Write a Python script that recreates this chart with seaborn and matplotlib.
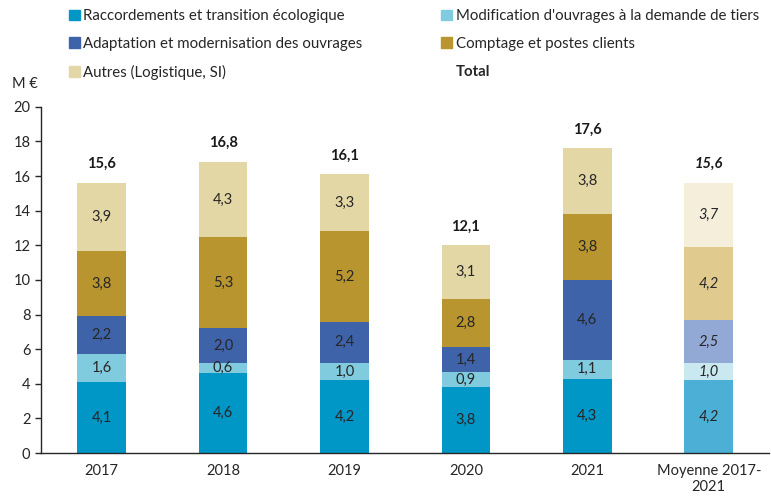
import numpy as np
import pandas as pd
import seaborn as sns
import matplotlib.pyplot as plt
from matplotlib.patches import Patch

sns.set_theme(style="white")
plt.rcParams['font.family'] = ['Lato', 'DejaVu Sans']

# data
categories = ["2017", "2018", "2019", "2020", "2021", "Moyenne 2017-\n2021"]
raccordements = [4.1, 4.6, 4.2, 3.8, 4.3, 4.2]
modification = [1.6, 0.6, 1.0, 0.9, 1.1, 1.0]
adaptation = [2.2, 2.0, 2.4, 1.4, 4.6, 2.5]
comptage = [3.8, 5.3, 5.2, 2.8, 3.8, 4.2]
autres = [3.9, 4.3, 3.3, 3.1, 3.8, 3.7]
totals = [15.6, 16.8, 16.1, 12.1, 17.6, 15.6]

series_names = [
    "Raccordements et transition écologique",
    "Modification d'ouvrages à la demande de tiers",
    "Adaptation et modernisation des ouvrages",
    "Comptage et postes clients",
    "Autres (Logistique, SI)",
]
series = [raccordements, modification, adaptation, comptage, autres]
# normal colours, and lighter ones for the average bar
colors = ["#0096C6", "#80CBDD", "#3F63A8", "#B8952F", "#E4D7A6"]
colors_avg = ["#4BAFD6", "#C9E8EF", "#91A9D4", "#E1CA8E", "#F4EEDB"]

fig = plt.figure(figsize=(7.71, 5.04), dpi=100)
ax = fig.add_axes([0.053, 0.101, 0.945, 0.687])

vals = np.array(series)
cum = np.cumsum(vals, axis=0)

# draw cumulative heights from top layer down so each layer covers the one above
for k in range(len(series) - 1, -1, -1):
    df = pd.DataFrame({"cat": categories, "val": cum[k]})
    pal = [colors[k]] * (len(categories) - 1) + [colors_avg[k]]
    sns.barplot(data=df, x="cat", y="val", hue="cat", palette=pal,
                legend=False, width=0.4, saturation=1, linewidth=0, ax=ax)

# segment labels
for k in range(len(series)):
    for i in range(len(categories)):
        y = cum[k][i] - vals[k][i] / 2
        style = "italic" if i == len(categories) - 1 else "normal"
        ax.text(i, y, f"{vals[k][i]:.1f}".replace(".", ","), ha="center",
                va="center", fontsize=10.5, color="#262626", style=style)

# totals above bars
for i, t in enumerate(totals):
    style = "italic" if i == len(categories) - 1 else "normal"
    ax.text(i, cum[-1][i] + 1.1, f"{t:.1f}".replace(".", ","), ha="center",
            va="center", fontsize=10.5, fontweight="bold", color="#1a1a1a",
            style=style)

ax.set_ylim(0, 20)
ax.set_xlim(-0.5, len(categories) - 0.5)
ax.set_yticks(range(0, 21, 2))
ax.set_xlabel("")
ax.set_ylabel("")
ax.set_xticks(np.arange(-0.5, len(categories)), minor=True)
ax.tick_params(axis="x", which="major", length=0, labelsize=10.5, pad=8,
               colors="#262626")
ax.tick_params(axis="x", which="minor", length=4, width=1, color="#262626",
               direction="out")
ax.tick_params(axis="y", length=4, width=1, labelsize=10.5, colors="#262626",
               direction="out", left=True)
for s in ["top", "right"]:
    ax.spines[s].set_visible(False)
for s in ["left", "bottom"]:
    ax.spines[s].set_color("#262626")
    ax.spines[s].set_linewidth(1)

fig.text(0.015, 0.825, "M €", fontsize=10.5, color="#262626")

# legend: column-wise order for ncol=2
handles = [Patch(color=colors[0]), Patch(color=colors[2]), Patch(color=colors[4]),
           Patch(color=colors[1]), Patch(color=colors[3]),
           Patch(color="none")]
labels = [series_names[0], series_names[2], series_names[4],
          series_names[1], series_names[3], "Total"]
leg = fig.legend(handles, labels, ncol=2, loc="upper left",
                 bbox_to_anchor=(0.0895, 0.982), frameon=False, fontsize=10.8,
                 handlelength=0.7, handleheight=0.7, handletextpad=0.25,
                 columnspacing=5.25, labelspacing=0.92, borderpad=0,
                 borderaxespad=0)
for txt in leg.get_texts():
    txt.set_color("#262626")
leg.get_texts()[-1].set_fontweight("bold")

fig.savefig("out.png", dpi=100)
